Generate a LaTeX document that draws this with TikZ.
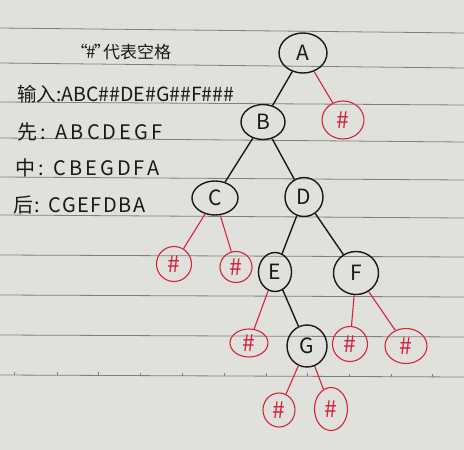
\documentclass[tikz,border=0pt]{standalone}
\usepackage{fontspec}
\setmainfont{Noto Sans CJK SC}
\newfontfamily\spaced[LetterSpace=15]{Noto Sans CJK SC}
\newfontfamily\spacedb[LetterSpace=8]{Noto Sans CJK SC}
\usetikzlibrary{shapes.geometric}
\definecolor{paper}{RGB}{224,224,220}
\definecolor{rulecol}{RGB}{128,128,128}
\definecolor{ink}{RGB}{25,25,25}
\definecolor{redink}{RGB}{214,36,62}
\tikzset{
  blk/.style={ellipse, draw=ink, line width=1.4pt, inner sep=0pt, text=ink,
    font=\fontsize{21}{21}\selectfont},
  hsh/.style={ellipse, draw=redink, line width=1.1pt, inner sep=0pt, text=redink,
    font=\fontsize{23}{23}\selectfont},
  bedge/.style={draw=ink, line width=1.4pt},
  redge/.style={draw=redink, line width=1.1pt},
  note/.style={anchor=west, inner sep=0pt, text=ink},
  paperline/.style={draw=rulecol, line width=0.8pt},
}
\begin{document}
\begin{tikzpicture}[x=1pt,y=-1pt]
\fill[paper] (0,0) rectangle (464,450);
\useasboundingbox (0,0) rectangle (464,450);
% ruled lines
\foreach \l/\r in {28/33,63/68,102/105,138/142,177/180,215/218,255/257,295/297,335/337,375/377}
  \draw[paperline] (0,\l) -- (464,\r);
\foreach \x in {14,57,98,140,182,224,266,307,349,391,432}
  \draw[paperline] (\x,{375+\x*2/464}) -- (\x,{372+\x*2/464});
% notes
\node[note, font=\fontsize{17}{17}\selectfont] (t0) at (80,52) {\kern-0.55em“\kern-0.1em\#\kern-0.1em”\kern-0.45em代表空格};
\node[note, font=\fontsize{19.5}{19.5}\selectfont] (t1) at (17,94) {输入:ABC\#\#DE\#G\#\#F\#\#\#};
\node[note, font=\fontsize{20}{20}\spaced] (t2) at (17,132) {先: ABCDEGF};
\node[note, font=\fontsize{20}{20}\spaced] (t3) at (15,168) {中: CBEGDFA};
\node[note, font=\fontsize{20}{20}\spacedb] (t4) at (13,205) {后: CGEFDBA};
% tree nodes
\node[blk, minimum width=48pt, minimum height=40pt] (A) at (303,53) {A};
\node[blk, minimum width=44pt, minimum height=35pt] (B) at (263,122) {B};
\node[hsh, minimum width=42pt, minimum height=38pt] (hA) at (343,120) {\#};
\node[blk, minimum width=46pt, minimum height=34pt] (C) at (215,198) {C};
\node[blk, minimum width=38pt, minimum height=39pt] (D) at (304,197) {D};
\node[hsh, minimum width=35pt, minimum height=35pt] (hC1) at (174,264) {\#};
\node[hsh, minimum width=32pt, minimum height=31pt] (hC2) at (236,267) {\#};
\node[blk, minimum width=33pt, minimum height=39pt] (E) at (275,272) {E};
\node[blk, minimum width=45pt, minimum height=43pt] (F) at (356,273) {F};
\node[hsh, minimum width=38pt, minimum height=28pt] (hE) at (249,343) {\#};
\node[blk, minimum width=40pt, minimum height=42pt] (G) at (307,346) {G};
\node[hsh, minimum width=35pt, minimum height=35pt] (hF1) at (350,344) {\#};
\node[hsh, minimum width=42pt, minimum height=35pt] (hF2) at (406,346) {\#};
\node[hsh, minimum width=32pt, minimum height=34pt] (hG1) at (279,410) {\#};
\node[hsh, minimum width=33pt, minimum height=43pt] (hG2) at (331,409) {\#};
% edges
\draw[bedge] (A) -- (B);
\draw[redge] (A) -- (hA);
\draw[bedge] (B) -- (C);
\draw[bedge] (B) -- (D);
\draw[redge] (C) -- (hC1);
\draw[redge] (C) -- (hC2);
\draw[bedge] (D) -- (E);
\draw[bedge] (D) -- (F);
\draw[redge] (E) -- (hE);
\draw[bedge] (E) -- (G);
\draw[redge] (F) -- (hF1);
\draw[redge] (F) -- (hF2);
\draw[redge] (G) -- (hG1);
\draw[redge] (G) -- (hG2);
\end{tikzpicture}
\end{document}
